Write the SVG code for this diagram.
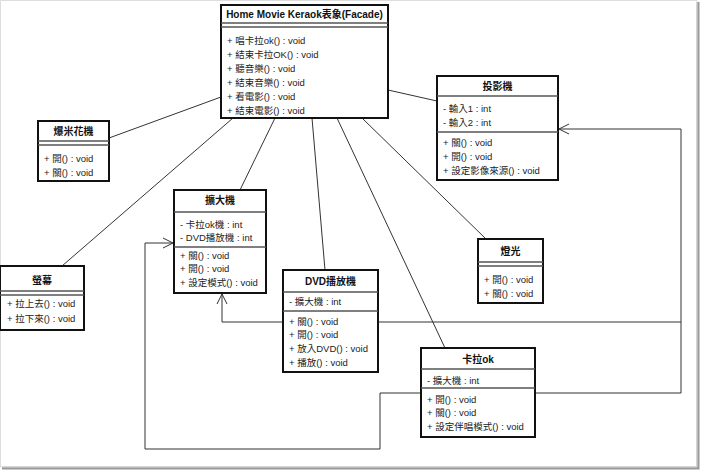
<svg xmlns="http://www.w3.org/2000/svg" width="701" height="473" viewBox="0 0 701 473">
<style>
.box{fill:#fff;stroke:#111;stroke-width:2}
.sep{stroke:#555;stroke-width:1.5}
.t{font-family:"Liberation Sans","Noto Sans CJK TC",sans-serif;font-size:10px;font-weight:bold;text-anchor:middle;fill:#111}
.m{font-family:"Liberation Sans","Noto Sans CJK TC",sans-serif;font-size:9.5px;fill:#222}
.ln{fill:none;stroke:#333;stroke-width:1}
</style>
<defs>
<marker id="open" markerWidth="12" markerHeight="12" refX="10" refY="5" orient="auto" markerUnits="userSpaceOnUse" viewBox="0 0 12 10">
<path d="M0,0 L10,5 L0,10" fill="none" stroke="#333" stroke-width="1"/>
</marker>
</defs>
<rect x="0" y="0" width="701" height="473" fill="#fff"/>
<path d="M698,2 V468 H2" fill="none" stroke="#999" stroke-width="3"/>
<path d="M0.5,0.5 H697 V467 H0.5 Z" fill="none" stroke="#ddd" stroke-width="1"/>
<g id="connectors">
<line class="ln" x1="221" y1="97" x2="109" y2="138"/>
<line class="ln" x1="388" y1="90" x2="437" y2="101"/>
<line class="ln" x1="233" y1="118" x2="62" y2="266"/>
<line class="ln" x1="275" y1="118" x2="240" y2="190"/>
<line class="ln" x1="312" y1="118" x2="325" y2="270"/>
<line class="ln" x1="337" y1="118" x2="445" y2="348"/>
<line class="ln" x1="362" y1="118" x2="486" y2="239"/>
<path class="ln" d="M535,393 H681 V129 H559" marker-end="url(#open)"/>
<path class="ln" d="M681,322 H222 V294" marker-end="url(#open)"/>
<path class="ln" d="M421,393 H380 V449 H145 V243 H173" marker-end="url(#open)"/>
</g>
<g id="facade">
<rect class="box" x="221" y="5" width="167" height="113"/>
<line class="sep" x1="221" y1="23" x2="388" y2="23"/>
<line class="sep" x1="221" y1="27" x2="388" y2="27"/>
<text class="t" x="304.5" y="18">Home Movie Keraok表象(Facade)</text>
<text class="m" x="227" y="44">+ 唱卡拉ok() : void</text>
<text class="m" x="227" y="58">+ 結束卡拉OK() : void</text>
<text class="m" x="227" y="72">+ 聽音樂() : void</text>
<text class="m" x="227" y="86">+ 結束音樂() : void</text>
<text class="m" x="227" y="100">+ 看電影() : void</text>
<text class="m" x="227" y="114">+ 結束電影() : void</text>
</g>
<g id="projector">
<rect class="box" x="437" y="76" width="121" height="104"/>
<line class="sep" x1="437" y1="96" x2="558" y2="96"/>
<line class="sep" x1="437" y1="132" x2="558" y2="132"/>
<text class="t" x="497.5" y="90">投影機</text>
<text class="m" x="443" y="112">- 輸入1 : int</text>
<text class="m" x="443" y="126">- 輸入2 : int</text>
<text class="m" x="443" y="146">+ 關() : void</text>
<text class="m" x="443" y="160">+ 開() : void</text>
<text class="m" x="443" y="174">+ 設定影像來源() : void</text>
</g>
<g id="popcorn">
<rect class="box" x="38" y="121" width="71" height="60"/>
<line class="sep" x1="38" y1="141" x2="109" y2="141"/>
<line class="sep" x1="38" y1="145" x2="109" y2="145"/>
<text class="t" x="73.5" y="135">爆米花機</text>
<text class="m" x="44" y="162">+ 開() : void</text>
<text class="m" x="44" y="176">+ 關() : void</text>
</g>
<g id="amplifier">
<rect class="box" x="174" y="190" width="92" height="103"/>
<line class="sep" x1="174" y1="212" x2="266" y2="212"/>
<line class="sep" x1="174" y1="247" x2="266" y2="247"/>
<text class="t" x="220" y="204">擴大機</text>
<text class="m" x="180" y="228">- 卡拉ok機 : int</text>
<text class="m" x="180" y="241">- DVD播放機 : int</text>
<text class="m" x="180" y="259">+ 關() : void</text>
<text class="m" x="180" y="272">+ 開() : void</text>
<text class="m" x="180" y="286">+ 設定模式() : void</text>
</g>
<g id="screen">
<rect class="box" x="0" y="266" width="84" height="64"/>
<line class="sep" x1="0" y1="291" x2="84" y2="291"/>
<line class="sep" x1="0" y1="295" x2="84" y2="295"/>
<text class="t" x="42" y="284">螢幕</text>
<text class="m" x="7" y="307">+ 拉上去() : void</text>
<text class="m" x="7" y="322">+ 拉下來() : void</text>
</g>
<g id="dvd">
<rect class="box" x="283" y="270" width="95" height="102"/>
<line class="sep" x1="283" y1="292" x2="378" y2="292"/>
<line class="sep" x1="283" y1="311" x2="378" y2="311"/>
<text class="t" x="330.5" y="285">DVD播放機</text>
<text class="m" x="289" y="305">- 擴大機 : int</text>
<text class="m" x="289" y="325">+ 關() : void</text>
<text class="m" x="289" y="338">+ 開() : void</text>
<text class="m" x="289" y="352">+ 放入DVD() : void</text>
<text class="m" x="289" y="366">+ 播放() : void</text>
</g>
<g id="lights">
<rect class="box" x="478" y="239" width="65" height="64"/>
<line class="sep" x1="478" y1="262" x2="543" y2="262"/>
<line class="sep" x1="478" y1="266" x2="543" y2="266"/>
<text class="t" x="510.5" y="255">燈光</text>
<text class="m" x="484" y="283">+ 開() : void</text>
<text class="m" x="484" y="297">+ 關() : void</text>
</g>
<g id="karaoke">
<rect class="box" x="421" y="348" width="114" height="89"/>
<line class="sep" x1="421" y1="369" x2="535" y2="369"/>
<line class="sep" x1="421" y1="388" x2="535" y2="388"/>
<text class="t" x="478" y="363">卡拉ok</text>
<text class="m" x="427" y="384">- 擴大機 : int</text>
<text class="m" x="427" y="403">+ 開() : void</text>
<text class="m" x="427" y="416">+ 關() : void</text>
<text class="m" x="427" y="430">+ 設定伴唱模式() : void</text>
</g>
</svg>
